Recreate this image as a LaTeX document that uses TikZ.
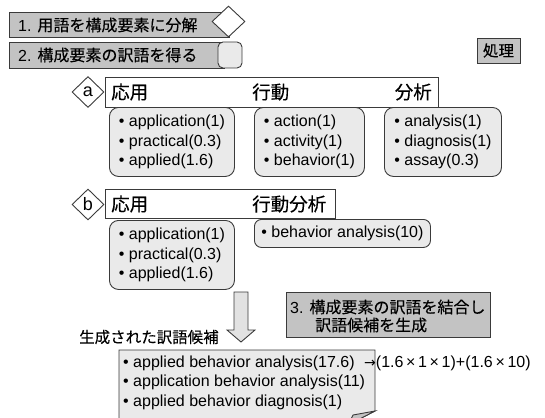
\documentclass[tikz,border=0pt]{standalone}
\usepackage{fontspec}
\setmainfont{Liberation Sans}
\newfontfamily\jp[FakeBold=0.2]{Noto Sans CJK JP}
\newfontfamily\symf{DejaVu Sans}
\usetikzlibrary{shapes.geometric}
\definecolor{dgray}{HTML}{C3C3C3}
\definecolor{lgray}{HTML}{EAEAEA}
\definecolor{agray}{HTML}{E2E2E2}
\definecolor{edge}{HTML}{3A3A3A}
\tikzset{
  base/.style={draw=edge, line width=0.9pt},
  procbox/.style={base, fill=dgray, rectangle, inner sep=0pt, anchor=north west},
  hdrbox/.style={base, fill=white, rectangle, inner sep=0pt, anchor=north west},
  hdr/.style={inner sep=0pt, font=\jp\fontsize{18.5}{22}\selectfont},
  jtxt/.style={inner sep=0pt, anchor=west},
  lbox/.style={base, fill=lgray, rounded corners=9pt, anchor=north west, align=left, inner sep=0pt},
  tagmark/.style={diamond, base, fill=white, inner sep=0pt, minimum width=32pt, minimum height=31pt, font=\fontsize{18}{20}\selectfont},
}
\begin{document}
\begin{tikzpicture}[x=1pt,y=-1pt, font=\fontsize{16}{19.5}\selectfont]
\useasboundingbox (0,0) rectangle (545,417);

% step 1
\node[procbox, minimum width=220pt, minimum height=25pt] (s1) at (9,12) {};
\node[jtxt] (t1) at (18,25) {1. {\jp 用語を構成要素に分解}};
\node[diamond, base, fill=white, inner sep=0pt, minimum width=33pt, minimum height=31pt] (d1) at (228.5,21.5) {};

% step 2
\node[procbox, minimum width=215pt, minimum height=26pt] (s2) at (9,42) {};
\node[jtxt] (t2) at (18,55) {2. {\jp 構成要素の訳語を得る}};
\node[base, fill=lgray, rounded corners=5pt, minimum width=24pt, minimum height=26pt, inner sep=0pt] (r2) at (230,55) {};

% legend
\node[procbox, anchor=center, minimum width=43pt, minimum height=25pt, font=\jp\fontsize{15.5}{18}\selectfont] (legend) at (498.5,50.5) {処理};

% row a
\node[hdrbox, minimum width=333pt, minimum height=30pt] (ha) at (105,77) {};
\node[hdr, anchor=west] (ha1) at (111,92) {応用};
\node[hdr, anchor=west] (ha2) at (252,92) {行動};
\node[hdr, anchor=east] (ha3) at (432,92) {分析};
\node[tagmark] (da) at (88,92) {a};
\node[lbox, minimum width=125pt, minimum height=69pt] (a1) at (109,107) {• application(1)\\• practical(0.3)\\• applied(1.6)};
\node[lbox, minimum width=110pt, minimum height=69pt] (a2) at (254,107) {• action(1)\\• activity(1)\\• behavior(1)};
\node[lbox, minimum width=117pt, minimum height=69pt] (a3) at (384,107) {• analysis(1)\\• diagnosis(1)\\• assay(0.3)};

% row b
\node[hdrbox, minimum width=230pt, minimum height=29pt] (hb) at (105,189) {};
\node[hdr, anchor=west] (hb1) at (111,204) {応用};
\node[hdr, anchor=west] (hb2) at (252,204) {行動分析};
\node[tagmark] (db) at (88,204.5) {b};
\node[lbox, minimum width=125pt, minimum height=69pt] (b1) at (109,220) {• application(1)\\• practical(0.3)\\• applied(1.6)};
\node[lbox, rounded corners=7pt, minimum width=176pt, minimum height=28pt] (b2) at (254,219) {• behavior analysis(10)};

% block arrow
\draw[base, fill=agray] (234,292) -- (248,292) -- (248,330) -- (255,330) -- (241,342) -- (227,330) -- (234,330) -- cycle;

% step 3
\node[procbox, minimum width=204pt, minimum height=45pt] (s3) at (286,292) {};
\node[jtxt] (t3a) at (290,307) {3. {\jp 構成要素の訳語を結合し}};
\node[jtxt, font=\jp\fontsize{16}{19.5}\selectfont] (t3b) at (315,325) {訳語候補を生成};

\node[jtxt, font=\jp\fontsize{15.5}{19}\selectfont] (gen) at (79,337) {生成された訳語候補};

% candidates (folded note)
\draw[base, fill=lgray] (119,350) -- (375,350) -- (375,411) -- (348,425) -- (119,425) -- cycle;
\draw[base, fill=dgray] (348,425) -- (353,415) -- (375,411) -- cycle;
\node[jtxt, align=left] (cands) at (123,382.5) {• applied behavior analysis(17.6)\\• application behavior analysis(11)\\• applied behavior diagnosis(1)};

\node[jtxt] (formula) at (364,363) {{\symf\fontsize{14}{16}\selectfont →}(1.6\,×\,1\,×\,1)+(1.6\,×\,10)};
\end{tikzpicture}
\end{document}
